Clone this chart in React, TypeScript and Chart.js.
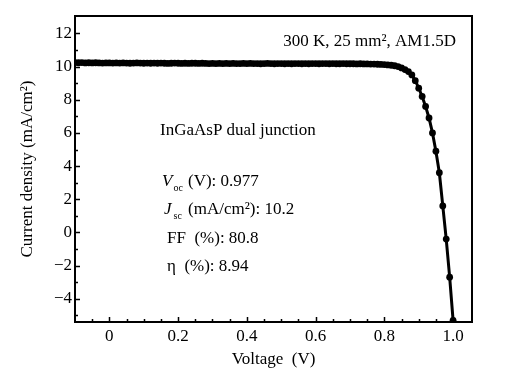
import React, { useEffect, useRef } from 'react';
import { Chart, registerables } from 'chart.js';

Chart.register(...registerables);

// Voltage (V)
const voltage = [
  -0.10, -0.09, -0.08, -0.07, -0.06, -0.05, -0.04, -0.03, -0.02, -0.01,
  0.00, 0.01, 0.02, 0.03, 0.04, 0.05, 0.06, 0.07, 0.08, 0.09,
  0.10, 0.11, 0.12, 0.13, 0.14, 0.15, 0.16, 0.17, 0.18, 0.19,
  0.20, 0.21, 0.22, 0.23, 0.24, 0.25, 0.26, 0.27, 0.28, 0.29,
  0.30, 0.31, 0.32, 0.33, 0.34, 0.35, 0.36, 0.37, 0.38, 0.39,
  0.40, 0.41, 0.42, 0.43, 0.44, 0.45, 0.46, 0.47, 0.48, 0.49,
  0.50, 0.51, 0.52, 0.53, 0.54, 0.55, 0.56, 0.57, 0.58, 0.59,
  0.60, 0.61, 0.62, 0.63, 0.64, 0.65, 0.66, 0.67, 0.68, 0.69,
  0.70, 0.71, 0.72, 0.73, 0.74, 0.75, 0.76, 0.77, 0.78, 0.79,
  0.80, 0.81, 0.82, 0.83, 0.84, 0.85, 0.86, 0.87, 0.88, 0.89,
  0.90, 0.91, 0.92, 0.93, 0.94, 0.95, 0.96, 0.97, 0.98, 0.99,
  1.00,
];

// Current density (mA/cm2)
const currentDensity = [
  10.24, 10.23, 10.24, 10.22, 10.23, 10.22, 10.23, 10.22, 10.21, 10.22,
  10.22, 10.21, 10.22, 10.21, 10.22, 10.21, 10.20, 10.21, 10.22, 10.21,
  10.20, 10.21, 10.20, 10.21, 10.20, 10.21, 10.20, 10.19, 10.20, 10.21,
  10.20, 10.19, 10.20, 10.19, 10.20, 10.20, 10.19, 10.20, 10.19, 10.18,
  10.19, 10.18, 10.19, 10.18, 10.19, 10.18, 10.19, 10.18, 10.18, 10.19,
  10.18, 10.19, 10.18, 10.18, 10.17, 10.18, 10.19, 10.18, 10.17, 10.18,
  10.18, 10.17, 10.18, 10.17, 10.18, 10.18, 10.17, 10.18, 10.17, 10.18,
  10.18, 10.17, 10.18, 10.18, 10.17, 10.18, 10.17, 10.17, 10.18, 10.17,
  10.17, 10.17, 10.16, 10.17, 10.16, 10.16, 10.15, 10.15, 10.14, 10.13,
  10.12, 10.10, 10.08, 10.05, 10.00, 9.92, 9.82, 9.70, 9.50, 9.15,
  8.70, 8.20, 7.60, 6.90, 6.00, 4.90, 3.60, 1.60, -0.40, -2.70,
  -5.30,
];

const xMajorTicks = [0, 0.2, 0.4, 0.6, 0.8, 1.0];
const xTickLabels = ['0', '0.2', '0.4', '0.6', '0.8', '1.0'];
const xMinorTicks = [-0.05, 0.1, 0.3, 0.5, 0.7, 0.9, 0.05, 0.15, 0.25, 0.35, 0.45, 0.55, 0.65, 0.75, 0.85, 0.95];
const yMajorTicks = [-4, -2, 0, 2, 4, 6, 8, 10, 12];
const yTickLabels = ['\u22124', '\u22122', '0', '2', '4', '6', '8', '10', '12'];
const yMinorTicks = [-5, -3, -1, 1, 3, 5, 7, 9, 11];

const SERIF = '"Liberation Serif", "Times New Roman", serif';

const decorPlugin = {
  id: 'decor',
  afterDraw(chart: any) {
    const { ctx, chartArea: a, scales } = chart;
    const xs = scales.x;
    const ys = scales.y;
    ctx.save();
    ctx.strokeStyle = '#000';
    ctx.lineWidth = 1.5;
    ctx.beginPath();
    const tick = (v: number, len: number, horiz: boolean) => {
      if (horiz) {
        const px = Math.round(xs.getPixelForValue(v)) + 0.5;
        ctx.moveTo(px, a.bottom);
        ctx.lineTo(px, a.bottom - len);
      } else {
        const py = Math.round(ys.getPixelForValue(v)) + 0.5;
        ctx.moveTo(a.left, py);
        ctx.lineTo(a.left + len, py);
      }
    };
    xMajorTicks.forEach((v) => tick(v, 5, true));
    xMinorTicks.forEach((v) => tick(v, 3, true));
    yMajorTicks.forEach((v) => tick(v, 5, false));
    yMinorTicks.forEach((v) => tick(v, 3, false));
    ctx.stroke();

    ctx.lineWidth = 2;
    ctx.strokeRect(a.left, a.top, a.right - a.left, a.bottom - a.top);

    ctx.fillStyle = '#000';
    ctx.textBaseline = 'alphabetic';
    const txt = (t: string, x: number, y: number, size: number, style = '', align: CanvasTextAlign = 'left') => {
      ctx.font = `${style} ${size}px ${SERIF}`;
      ctx.textAlign = align;
      ctx.fillText(t, x, y);
      return ctx.measureText(t).width;
    };
    txt('300 K, 25 mm\u00b2, AM1.5D', 456, 46, 17, '', 'right');
    txt('InGaAsP dual junction', 160, 135, 17);
    let w = txt('V', 162, 186, 17, 'italic');
    txt('oc', 162 + w + 1, 191, 10);
    txt('(V): 0.977', 188, 186, 17);
    w = txt('J', 164, 214, 17, 'italic');
    txt('sc', 164 + w + 2, 219, 10);
    txt('(mA/cm\u00b2): 10.2', 188, 214, 17);
    txt('FF  (%): 80.8', 167, 243, 17);
    txt('\u03b7  (%): 8.94', 167, 271, 17);
    ctx.restore();
  },
};

export default function App() {
  const ref = useRef<HTMLCanvasElement | null>(null);

  useEffect(() => {
    document.body.style.margin = '0';
    const canvas = ref.current;
    if (!canvas) return;
    const points = voltage.map((v, i) => ({ x: v, y: currentDensity[i] }));
    const chart = new Chart(canvas, {
      type: 'line',
      data: {
        datasets: [
          {
            data: points,
            borderColor: '#000',
            backgroundColor: '#000',
            borderWidth: 3,
            pointRadius: 3.4,
            pointBorderWidth: 0,
            pointBackgroundColor: '#000',
            pointStyle: 'circle',
            tension: 0,
            fill: false,
          },
        ],
      },
      options: {
        responsive: false,
        animation: false,
        devicePixelRatio: 1,
        layout: { padding: { top: 16, right: 36, left: 0, bottom: 0 } },
        plugins: {
          legend: { display: false },
          tooltip: { enabled: false },
        },
        scales: {
          x: {
            type: 'linear',
            min: -0.1,
            max: 1.055,
            grid: { display: false, drawTicks: false },
            border: { display: false },
            afterBuildTicks: (scale: any) => {
              scale.ticks = xMajorTicks.map((v) => ({ value: v }));
            },
            afterFit: (scale: any) => {
              scale.height = 59;
            },
            ticks: {
              autoSkip: false,
              maxRotation: 0,
              padding: 4,
              color: '#000',
              font: { family: SERIF, size: 17 },
              callback: (_v: any, i: number) => xTickLabels[i],
            },
            title: {
              display: true,
              text: 'Voltage  (V)',
              color: '#000',
              font: { family: SERIF, size: 17 },
              padding: { top: 0, bottom: 11 },
            },
          },
          y: {
            type: 'linear',
            min: -5.4,
            max: 13.05,
            grid: { display: false, drawTicks: false },
            border: { display: false },
            afterBuildTicks: (scale: any) => {
              scale.ticks = yMajorTicks.map((v) => ({ value: v }));
            },
            afterFit: (scale: any) => {
              scale.width = 75;
            },
            ticks: {
              autoSkip: false,
              padding: 3,
              color: '#000',
              font: { family: SERIF, size: 17 },
              callback: (_v: any, i: number) => yTickLabels[i],
            },
            title: {
              display: true,
              text: 'Current density (mA/cm\u00b2)',
              color: '#000',
              font: { family: SERIF, size: 17 },
              padding: { top: 17, bottom: 0 },
            },
          },
        },
      },
      plugins: [decorPlugin],
    } as any);
    return () => chart.destroy();
  }, []);

  return (
    <div style={{ position: 'fixed', left: 0, top: 0, width: 508, height: 381 }}>
      <canvas ref={ref} width={508} height={381} />
    </div>
  );
}
